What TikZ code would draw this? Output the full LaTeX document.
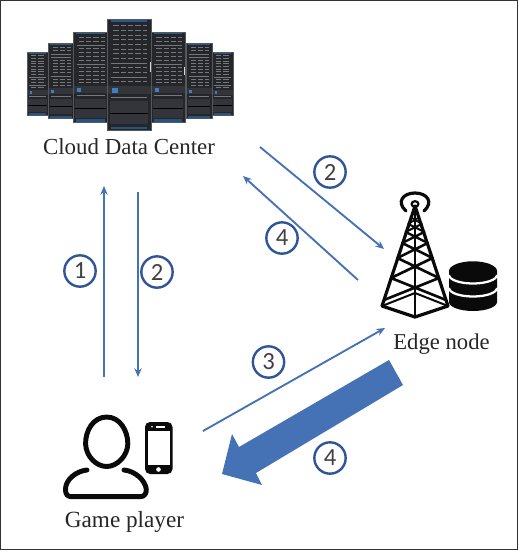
\documentclass[tikz,border=0pt]{standalone}
\usepackage{fontspec}
\setmainfont{Liberation Serif}
\newfontfamily\numfont{Carlito}
\usetikzlibrary{arrows.meta}
\definecolor{arrowblue}{HTML}{4472B4}
\definecolor{ringblue}{HTML}{2F5597}
\definecolor{rackdark}{HTML}{24262A}
\definecolor{rackmid}{HTML}{33353A}
\definecolor{rackedge}{HTML}{55585C}
\definecolor{rackline}{HTML}{74787C}
\definecolor{rackled}{HTML}{3C7FC4}
\definecolor{framegrey}{HTML}{333333}
\definecolor{inkblack}{HTML}{0A0A0A}
\tikzset{
  label text/.style={font=\fontsize{17.2pt}{20pt}\selectfont,text=black!85,inner sep=0pt},
  ring/.style={circle,draw=ringblue,line width=1.8pt,minimum size=23.5pt,inner sep=0pt,font=\numfont\fontsize{18.5pt}{20pt}\selectfont,text=black!75},
  thin arrow/.style={draw=arrowblue,line width=1.4pt,-{Stealth[length=6.5pt,width=5.5pt]}},
  thick arrow/.style={fill=arrowblue,draw=none},
  ink/.style={draw=inkblack,line cap=round,line join=round},
}
% rack: left, top, right, bottom (pixels)
\newcommand{\rackunit}[4]{%
  \pgfmathsetmacro{\rw}{#3-#1}\pgfmathsetmacro{\rh}{#4-#2}%
  \fill[rackdark] (#1,#2) rectangle (#3,#4);
  \fill[rackmid] (#1,{#2+0.6*\rh}) rectangle (#3,{#2+0.68*\rh});
  \fill[rackmid] ({#1+0.07*\rw},{#2+0.74*\rh}) rectangle ({#3-0.07*\rw},{#4-0.05*\rh});
  \fill[rackled!70!black] ({#1+0.08*\rw},{#2+0.005*\rh}) rectangle ({#3-0.08*\rw},{#2+0.025*\rh});
  \fill[rackled!65!black] ({#1+0.08*\rw},{#4-0.03*\rh}) rectangle ({#3-0.08*\rw},{#4-0.005*\rh});
  \foreach \k in {0,...,12}{
    \draw[rackline,line width=0.45pt] ({#1+0.1*\rw},{#2+(0.06+0.042*\k)*\rh}) -- ({#3-0.1*\rw},{#2+(0.06+0.042*\k)*\rh});
    \draw[rackdark,line width=0.7pt,dash pattern=on 1.5pt off 4pt] ({#1+0.1*\rw},{#2+(0.06+0.042*\k)*\rh}) -- ({#3-0.1*\rw},{#2+(0.06+0.042*\k)*\rh});
  }
  \fill[rackled] ({#1+0.12*\rw},{#2+0.625*\rh}) rectangle ({#1+0.24*\rw},{#2+0.665*\rh});
  \draw[rackline,line width=0.4pt] ({#1+0.1*\rw},{#2+0.705*\rh}) -- ({#3-0.1*\rw},{#2+0.705*\rh});
  \draw[black,line width=0.5pt] ({#1+0.07*\rw},{#2+0.85*\rh}) -- ({#3-0.07*\rw},{#2+0.85*\rh});
  \draw[rackedge,line width=0.5pt] (#1,#2) rectangle (#3,#4);
}
% one lattice cross of the tower between two heights
\newcommand{\towercross}[3]{%
  \draw[ink,line width=#3]
    ({415-0.32*(#1-203)},#1) -- ({415+0.32*(#2-203)},#2)
    ({415+0.32*(#1-203)},#1) -- ({415-0.32*(#2-203)},#2);
}
\begin{document}
\begin{tikzpicture}[x=0.75pt,y=-0.75pt]
\useasboundingbox (0,0) rectangle (518,550);
\draw[framegrey,line width=0.9pt] (0.5,0.5) rectangle (517.5,549.5);

% servers
\rackunit{27}{52}{48}{115}
\rackunit{212}{52}{233}{115}
\rackunit{48}{43}{74}{118}
\rackunit{186}{43}{212}{118}
\rackunit{73}{32}{108}{122}
\rackunit{151}{32}{185}{122}
\rackunit{107}{19}{151}{130}
\fill[white!85!black] (149.5,62) rectangle (151,72);
\fill[white!85!black] (184,67) rectangle (185,75);

% tower
\draw[ink,line width=2.4pt] (415,206) -- (382,306) -- (415,317) -- (448,306) -- cycle;
\draw[ink,line width=1.9pt] (415,206) -- (415,317);
\draw[ink,line width=1.5pt] (382,306) -- (415,293) -- (448,306);
\towercross{300}{278}{2pt}
\towercross{278}{258}{2pt}
\towercross{258}{243}{1.9pt}
\towercross{243}{232}{1.7pt}
\towercross{232}{224}{1.5pt}
\towercross{224}{217}{1.3pt}
\draw[ink,line width=1.7pt] (415,204) circle [x radius=3.4,y radius=2.8];
\draw[ink,line width=2.4pt] (406,211) .. controls (396,202) and (403,193) .. (415,193) .. controls (427,193) and (434,202) .. (424,211);

% database
\fill[inkblack] (449,271) arc [start angle=180,end angle=0,x radius=24,y radius=-9.7] -- (497,302) arc [start angle=0,end angle=180,x radius=24,y radius=9] -- cycle;
\draw[white,line width=1.7pt] (449,275) arc [start angle=180,end angle=360,x radius=24,y radius=-8.5];
\draw[white,line width=1.7pt] (449,288) arc [start angle=180,end angle=360,x radius=24,y radius=-8.5];

% person
\draw[ink,line width=3.7pt] (106.7,417) .. controls (120,417) and (128,431) .. (127.8,444) .. controls (127.5,456) and (117,466.5) .. (106.7,466.5) .. controls (96,466.5) and (86,456) .. (85.6,444) .. controls (85.3,431) and (93,417) .. (106.7,417) -- cycle;
\draw[ink,line width=3.7pt] (87,470) .. controls (76,471) and (65,480) .. (65.5,490) .. controls (65.7,494) and (67,496.7) .. (72,496.7) -- (140,496.7) .. controls (145,496.7) and (146.5,493) .. (146.3,489) .. controls (145,480) and (135,471) .. (124,470);

% phone
\fill[inkblack] (145,427) arc [start angle=180,end angle=270,radius=5] -- (167.5,422) arc [start angle=-90,end angle=0,radius=5] -- (172.5,469) arc [start angle=0,end angle=90,radius=5] -- (150,474) arc [start angle=90,end angle=180,radius=5] -- cycle;
\fill[white] (147.5,431) rectangle (170,465);
\fill[white] (158.5,469.5) circle [radius=2.3];
\fill[white] (156,426) rectangle (165,427.5);
\fill[white] (152,426.8) circle [radius=0.9];

% labels
\node[label text] (cloud) at (129,147) {Cloud Data Center};
\node[label text,font=\fontsize{17pt}{20pt}\selectfont] (edge) at (441.5,344) {Edge node};
\node[label text,font=\fontsize{17.4pt}{20pt}\selectfont] (player) at (124.5,521.5) {Game player};

% connector ends
\coordinate (a1s) at (104,377);
\coordinate (a1e) at (104,186);
\coordinate (a2s) at (138,192);
\coordinate (a2e) at (138,377);
\coordinate (a3s) at (260,147);
\coordinate (a3e) at (384,249);
\coordinate (a4s) at (358,280);
\coordinate (a4e) at (243,176);
\coordinate (a5s) at (203,431);
\coordinate (a5e) at (385,328);
\draw[thin arrow] (a1s) -- (a1e);
\draw[thin arrow] (a2s) -- (a2e);
\draw[thin arrow] (a3s) -- (a3e);
\draw[thin arrow] (a4s) -- (a4e);
\draw[thin arrow] (a5s) -- (a5e);

% thick arrow
\fill[thick arrow] (389,360) -- (403,385) -- (256,473) -- (262,485) -- (222,474) -- (232,434) -- (239,447) -- cycle;

% numbered rings
\node[ring] (n1) at (80,271) {1};
\node[ring] (n2) at (157,272) {2};
\node[ring] (n3) at (330,172) {2};
\node[ring] (n4) at (282,238) {4};
\node[ring] (n5) at (268.5,362) {3};
\node[ring] (n6) at (330,458) {4};
\end{tikzpicture}
\end{document}
